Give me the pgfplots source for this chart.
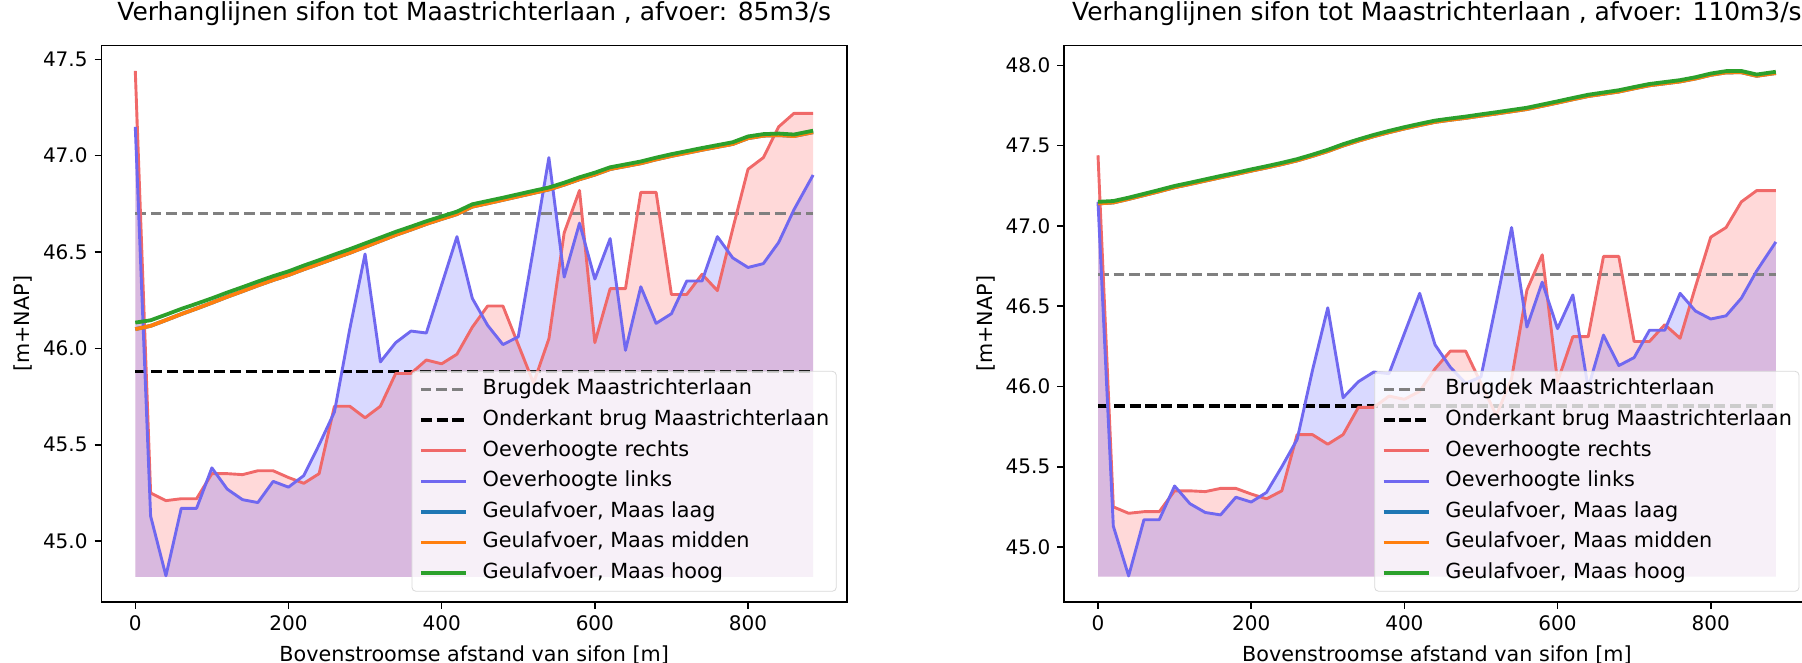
\documentclass[border=0pt]{standalone}
\usepackage{fontspec}
\setmainfont{DejaVu Sans}
\usepackage{pgfplots}
\pgfplotsset{compat=1.18}
\usepackage{pgfplotstable}
\usepgfplotslibrary{fillbetween}

\definecolor{tabblue}{HTML}{1F77B4}
\definecolor{taborange}{HTML}{FF7F0E}
\definecolor{tabgreen}{HTML}{2CA02C}
\definecolor{bankred}{RGB}{240,105,105}
\definecolor{bankblue}{RGB}{112,104,240}

% oeverhoogtes (same in both panels)
\pgfplotstableread{
x    r      l
0    47.44  47.15
20   45.25  45.13
40   45.21  44.82
60   45.22  45.17
80   45.22  45.17
100  45.35  45.38
120  45.35  45.27
140  45.345 45.215
160  45.365 45.20
180  45.365 45.31
200  45.33  45.28
220  45.30  45.34
240  45.35  45.50
260  45.70  45.67
280  45.70  46.10
300  45.64  46.49
320  45.70  45.93
340  45.87  46.03
360  45.87  46.09
380  45.94  46.08
400  45.92  46.33
420  45.97  46.58
440  46.11  46.26
460  46.22  46.12
480  46.22  46.02
500  46.02  46.06
520  45.82  46.52
540  46.05  46.99
560  46.60  46.37
580  46.82  46.65
600  46.03  46.36
620  46.31  46.57
640  46.31  45.99
660  46.81  46.32
680  46.81  46.13
700  46.28  46.18
720  46.28  46.35
740  46.385 46.35
760  46.30  46.58
780  46.62  46.47
800  46.93  46.42
820  46.99  46.44
840  47.15  46.55
860  47.22  46.72
885  47.22  46.90
}\bank

% waterstanden bij 85 m3/s
\pgfplotstableread{
x    laag    midden  hoog
0    46.100  46.100  46.134
20   46.117  46.117  46.146
40   46.147  46.147  46.175
60   46.178  46.178  46.205
80   46.207  46.207  46.232
100  46.237  46.237  46.260
120  46.268  46.268  46.290
140  46.297  46.297  46.318
160  46.327  46.327  46.347
180  46.355  46.355  46.375
200  46.381  46.381  46.400
220  46.411  46.411  46.430
240  46.439  46.439  46.458
260  46.468  46.468  46.487
280  46.496  46.496  46.515
300  46.527  46.527  46.545
320  46.558  46.558  46.575
340  46.589  46.589  46.605
360  46.617  46.617  46.632
380  46.646  46.646  46.660
400  46.672  46.672  46.685
420  46.697  46.697  46.710
440  46.736  46.736  46.748
460  46.753  46.753  46.765
480  46.771  46.771  46.782
500  46.789  46.789  46.800
520  46.807  46.807  46.818
540  46.825  46.825  46.835
560  46.850  46.850  46.860
580  46.878  46.878  46.888
600  46.902  46.902  46.912
620  46.931  46.931  46.940
640  46.946  46.946  46.955
660  46.961  46.961  46.970
680  46.981  46.981  46.990
700  46.999  46.999  47.008
720  47.015  47.015  47.024
740  47.031  47.031  47.040
760  47.046  47.046  47.055
780  47.061  47.061  47.070
800  47.091  47.091  47.100
820  47.104  47.104  47.112
840  47.107  47.107  47.115
860  47.102  47.102  47.110
885  47.122  47.122  47.130
}\qlaag

% waterstanden bij 110 m3/s
\pgfplotstableread{
x    laag    midden  hoog
0    47.140  47.140  47.150
20   47.146  47.146  47.155
40   47.168  47.168  47.176
60   47.192  47.192  47.200
80   47.216  47.216  47.224
100  47.241  47.241  47.249
120  47.261  47.261  47.269
140  47.282  47.282  47.290
160  47.303  47.303  47.311
180  47.323  47.323  47.331
200  47.344  47.344  47.352
220  47.364  47.364  47.372
240  47.385  47.385  47.393
260  47.408  47.408  47.416
280  47.436  47.436  47.444
300  47.466  47.466  47.474
320  47.501  47.501  47.509
340  47.531  47.531  47.539
360  47.559  47.559  47.567
380  47.584  47.584  47.592
400  47.607  47.607  47.615
420  47.628  47.628  47.636
440  47.648  47.648  47.656
460  47.661  47.661  47.669
480  47.673  47.673  47.681
500  47.687  47.687  47.695
520  47.700  47.700  47.708
540  47.714  47.714  47.722
560  47.728  47.728  47.736
580  47.748  47.748  47.756
600  47.768  47.768  47.776
620  47.789  47.789  47.797
640  47.809  47.809  47.817
660  47.823  47.823  47.831
680  47.837  47.837  47.845
700  47.857  47.857  47.865
720  47.876  47.876  47.884
740  47.888  47.888  47.896
760  47.900  47.900  47.908
780  47.918  47.918  47.926
800  47.941  47.941  47.949
820  47.956  47.956  47.964
840  47.957  47.957  47.965
860  47.935  47.935  47.943
885  47.952  47.952  47.960
}\qhoog

\pgfplotsset{
  sifon/.style={
    scale only axis,
    width=372.8pt, height=278.15pt,
    anchor=south west,
    xmin=-44.25, xmax=929.25,
    xtick={0,200,400,600,800},
    tick pos=left,
    tick align=outside,
    major tick length=3.4pt,
    axis line style={line width=0.77pt},
    tick style={line width=0.77pt, black},
    /pgf/number format/assume math mode=true,
    tick label style={font=\fontsize{10}{12}\selectfont},
    yticklabel style={/pgf/number format/.cd, fixed, fixed zerofill, precision=1},
    xlabel={Bovenstroomse afstand van sifon [m]},
    ylabel={[m+NAP]},
    label style={font=\fontsize{10.36}{12}\selectfont},
    xlabel style={at={(axis description cs:0.5,-0.0953)}, anchor=center},
    ylabel style={at={(axis description cs:-0.1050,0.5)}, anchor=center},
    title style={at={(axis description cs:0.5,1.0365)}, anchor=center,
      font=\fontsize{12.45}{15}\selectfont},
    every axis plot/.append style={line join=round},
    legend cell align=left,
    legend image code/.code={\draw[##1] (0pt,0pt) -- (22.5pt,0pt);},
    legend style={at={(1,0)}, anchor=south east, xshift=-5.15pt, yshift=5.15pt,
      font=\fontsize{10.4}{12}\selectfont,
      draw=black!15, fill=white, fill opacity=0.8, text opacity=1, draw opacity=1,
      rounded corners=2pt, inner xsep=3.5pt, inner ysep=4.2pt,
      row sep=5.5pt, column sep=7.5pt,
      nodes={inner sep=0pt, text height=7.6pt, text depth=2.2pt}},
  }
}

% bank lines, fills and bridge levels, shared by both panels
\newcommand\bankplots{%
  \addplot[draw=none, name path=R, forget plot] table[x=x, y=r]{\bank};
  \addplot[draw=none, name path=L, forget plot] table[x=x, y=l]{\bank};
  \addplot[draw=none, name path=B, forget plot] coordinates {(0,44.815) (885,44.815)};
  \addplot[fill=red, fill opacity=0.15, draw=none, forget plot] fill between[of=R and B];
  \addplot[fill=blue, fill opacity=0.15, draw=none, forget plot] fill between[of=L and B];
  \addplot[gray, line width=1.45pt, dash pattern=on 5.3pt off 2.5pt]
    coordinates {(0,46.70) (885,46.70)};
  \addlegendentry{Brugdek Maastrichterlaan}
  \addplot[black, line width=1.8pt, dash pattern=on 5.6pt off 2.3pt]
    coordinates {(0,45.88) (885,45.88)};
  \addlegendentry{Onderkant brug Maastrichterlaan}
  \addplot[bankred, line width=1.45pt] table[x=x, y=r]{\bank};
  \addlegendentry{Oeverhoogte rechts}
  \addplot[bankblue, line width=1.45pt] table[x=x, y=l]{\bank};
  \addlegendentry{Oeverhoogte links}
}

\newcommand\waterplots[1]{%
  \addplot[tabblue, line width=1.9pt] table[x=x, y=laag]{#1};
  \addlegendentry{Geulafvoer, Maas laag}
  \addplot[taborange, line width=1.9pt] table[x=x, y=midden]{#1};
  \addlegendentry{Geulafvoer, Maas midden}
  \addplot[tabgreen, line width=1.9pt] table[x=x, y=hoog]{#1};
  \addlegendentry{Geulafvoer, Maas hoog}
}

\begin{document}
\begin{tikzpicture}
\begin{axis}[sifon, at={(50.7pt,30.5pt)},
    ymin=44.684, ymax=47.571,
    ytick={45,45.5,46,46.5,47,47.5},
    title={Verhanglijnen sifon tot Maastrichterlaan , afvoer: 85m3/s}]
\bankplots
\waterplots{\qlaag}
\end{axis}

\begin{axis}[sifon, at={(532.05pt,30.5pt)},
    ymin=44.6575, ymax=48.1225,
    ytick={45,45.5,46,46.5,47,47.5,48},
    title={Verhanglijnen sifon tot Maastrichterlaan , afvoer: 110m3/s}]
\bankplots
\waterplots{\qhoog}
\end{axis}

% page = the reference's frame (the right panel runs off its right edge)
\pgfresetboundingbox
\path[use as bounding box] (0,0) rectangle (901pt,331.5pt);
\end{tikzpicture}
\end{document}
